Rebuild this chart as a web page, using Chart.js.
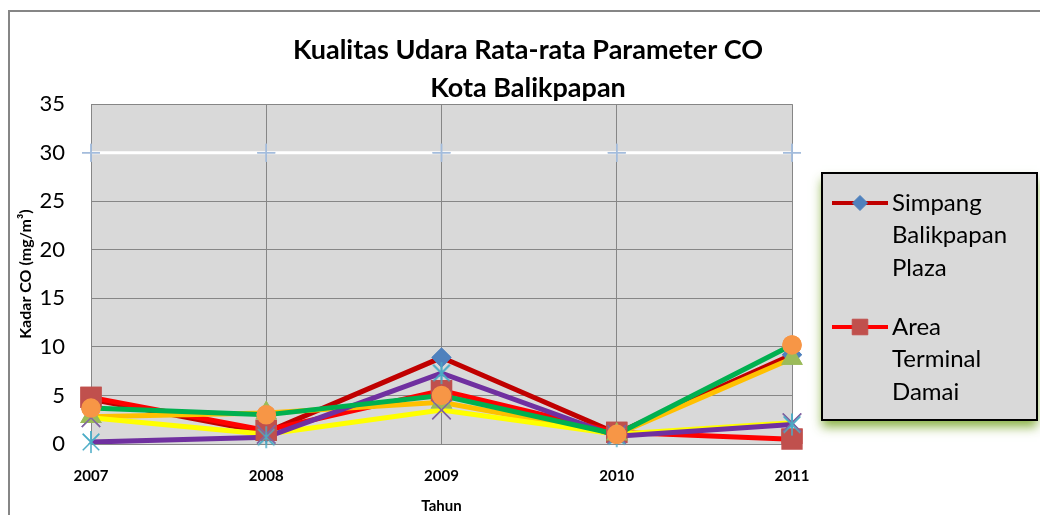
<!DOCTYPE html>
<html>
<head>
<meta charset="utf-8">
<script src="https://cdn.jsdelivr.net/npm/chart.js@4/dist/chart.umd.min.js"></script>
<style>
  html, body { margin: 0; padding: 0; background: #fff; }
</style>
</head>
<body>
<canvas id="coChart" width="1040" height="515"></canvas>
<script>
// data (mg/m3)
const years = ["2007", "2008", "2009", "2010", "2011"];
const simpangBP = [4.6, 1.2, 8.9, 1.1, 9.2];
const terminalDamai = [4.8, 1.4, 5.5, 1.2, 0.5];
const lokasi3 = [2.8, 3.2, 4.3, 1.0, 8.8];
const lokasi4 = [2.7, 1.0, 3.5, 1.0, 2.2];
const lokasi5 = [0.2, 0.7, 7.3, 0.8, 2.0];
const lokasi6 = [3.7, 3.0, 5.0, 1.0, 10.2];
const bakuMutu = [30, 30, 30, 30, 30];
const yTicks = [0, 5, 10, 15, 20, 25, 30, 35];

const FONT = "Lato";

// excel style asterisk marker (X plus vertical bar)
function asterisk(color, size) {
  const c = document.createElement("canvas");
  c.width = c.height = size;
  const g = c.getContext("2d");
  const m = size / 2, r = size / 2 - 1;
  g.strokeStyle = color;
  g.lineWidth = 1.5;
  g.beginPath();
  g.moveTo(m - r * 0.75, m - r * 0.75); g.lineTo(m + r * 0.75, m + r * 0.75);
  g.moveTo(m + r * 0.75, m - r * 0.75); g.lineTo(m - r * 0.75, m + r * 0.75);
  g.moveTo(m, 1); g.lineTo(m, size - 1);
  g.stroke();
  return c;
}

function series(label, data, line, marker, style, radius, i, width) {
  return {
    label: label,
    data: data,
    borderColor: line,
    borderWidth: width || 5,
    pointStyle: style,
    pointRadius: radius,
    pointBackgroundColor: marker,
    pointBorderColor: marker,
    pointBorderWidth: 1.5,
    tension: 0,
    order: -i,
  };
}

const datasets = [
  series("Simpang Balikpapan Plaza", simpangBP, "#c00000", "#4f81bd", "rectRot", 9, 0),
  series("Area Terminal Damai", terminalDamai, "#ff0000", "#c0504d", "rect", 14, 1),
  series("Lokasi 3", lokasi3, "#ffc000", "#9bbb59", "triangle", 11, 2),
  series("Lokasi 4", lokasi4, "#ffff00", "#8064a2", "crossRot", 13, 3),
  series("Lokasi 5", lokasi5, "#7030a0", "#4bacc6", asterisk("#4bacc6", 24), 12, 4),
  series("Lokasi 6", lokasi6, "#00b050", "#f79646", "circle", 9, 5),
  series("Baku Mutu", bakuMutu, "#ffffff", "#a3bcdc", "cross", 9, 6, 3),
];

const frame = {
  id: "frame",
  beforeDraw(chart) {
    const { ctx, chartArea: a } = chart;
    ctx.save();
    ctx.fillStyle = "#fff";
    ctx.fillRect(0, 0, chart.width, chart.height);
    ctx.strokeStyle = "#868686";
    ctx.lineWidth = 2;
    ctx.beginPath();
    ctx.moveTo(9, chart.height + 5);
    ctx.lineTo(9, 11);
    ctx.lineTo(chart.width + 5, 11);
    ctx.stroke();
    ctx.fillStyle = "#d9d9d9";
    ctx.fillRect(a.left, a.top, a.right - a.left, a.bottom - a.top);
    ctx.restore();
  },
  afterDatasetsDraw(chart) {
    // markers sit above every line, as in the original
    const metas = chart.getSortedVisibleDatasetMetas();
    for (let i = metas.length - 1; i >= 0; i--) {
      metas[i].data.forEach(p => p.draw(chart.ctx, chart.chartArea));
    }
  },
  afterDraw(chart) {
    const ctx = chart.ctx;
    const bx = 822, by = 173, bw = 215, bh = 247;
    ctx.save();
    ctx.shadowColor = "rgba(120,165,40,0.85)";
    ctx.shadowBlur = 10;
    ctx.shadowOffsetY = 7;
    ctx.fillStyle = "#d9d9d9";
    ctx.fillRect(bx, by, bw, bh);
    ctx.shadowColor = "transparent";
    ctx.strokeStyle = "#000";
    ctx.lineWidth = 2;
    ctx.strokeRect(bx, by, bw, bh);

    const sizes = [7.5, 11];
    chart.data.datasets.slice(0, 2).forEach((ds, k) => {
      const y0 = 203 + k * 124;
      ctx.strokeStyle = ds.borderColor;
      ctx.lineWidth = 4;
      ctx.beginPath();
      ctx.moveTo(832, y0);
      ctx.lineTo(888, y0);
      ctx.stroke();
      ctx.fillStyle = ds.pointBackgroundColor;
      ctx.strokeStyle = ds.pointBorderColor;
      ctx.lineWidth = 1;
      Chart.helpers.drawPoint(ctx, { pointStyle: ds.pointStyle, radius: sizes[k], borderWidth: 1, rotation: 0 }, 860, y0);
      ctx.fillStyle = "#000";
      ctx.font = "24px " + FONT;
      ctx.textBaseline = "middle";
      ds.label.split(" ").forEach((w, j) => ctx.fillText(w, 892, y0 + j * 32.5));
    });
    ctx.restore();
  },
};

new Chart(document.getElementById("coChart"), {
  type: "line",
  data: { labels: years, datasets: datasets },
  plugins: [frame],
  options: {
    responsive: false,
    animation: false,
    events: [],
    layout: { padding: { left: 16, right: 0, top: 0, bottom: 0 } },
    plugins: {
      legend: { display: false },
      tooltip: { enabled: false },
      title: {
        display: true,
        text: ["Kualitas Udara Rata-rata Parameter CO", "Kota Balikpapan"],
        color: "#000",
        font: { family: FONT, size: 27, weight: "bold", lineHeight: 1.41 },
        padding: { top: 31, bottom: -3 },
      },
    },
    scales: {
      x: {
        offset: false,
        grid: { color: "#868686", drawTicks: false },
        border: { color: "#868686" },
        ticks: { color: "#000", padding: 23, font: { family: FONT, size: 15, weight: "bold" } },
        title: { display: true, text: "Tahun", color: "#000", padding: { top: 0, bottom: 0 }, font: { family: FONT, size: 15, weight: "bold" } },
        afterFit(scale) { scale.height = 71; },
      },
      y: {
        min: 0,
        max: 35,
        afterBuildTicks(scale) { scale.ticks = yTicks.map(v => ({ value: v })); },
        grid: { color: "#868686", drawTicks: false },
        border: { color: "#868686" },
        ticks: { color: "#000", padding: 26, font: { family: FONT, size: 22 } },
        title: { display: true, text: "Kadar CO (mg/m³)", color: "#000", padding: { top: 0, bottom: 0 }, font: { family: FONT, size: 16, weight: "bold" } },
        afterFit(scale) { scale.width = 75; },
      },
      // empty right-hand strip that leaves room for the legend box
      legendSpace: {
        position: "right",
        grid: { display: false },
        border: { display: false },
        ticks: { display: false },
        afterFit(scale) { scale.width = 248; },
      },
    },
  },
});
</script>
</body>
</html>
